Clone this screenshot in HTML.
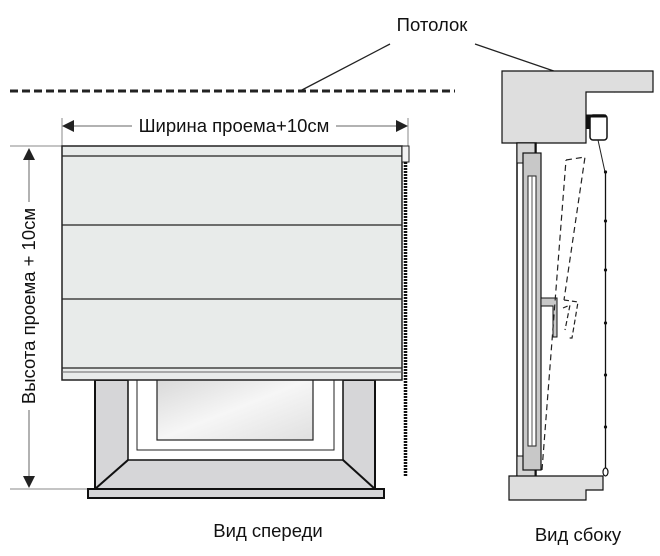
<!DOCTYPE html>
<html><head><meta charset="utf-8"><style>
body{margin:0;background:#fff}
svg{display:block}
text{font-family:"Liberation Sans",sans-serif;fill:#111}
</style></head><body>
<svg width="660" height="556" viewBox="0 0 660 556" xmlns="http://www.w3.org/2000/svg">
<defs><linearGradient id="g" x1="0" y1="0" x2="1" y2="1"><stop offset="0" stop-color="#d8d8d8"/><stop offset="0.5" stop-color="#f6f6f6"/><stop offset="1" stop-color="#e0e0e0"/></linearGradient></defs>
<text x="432" y="31" font-size="18.5" text-anchor="middle">Потолок</text>
<line x1="390" y1="44" x2="300" y2="91" stroke="#222" stroke-width="1.3"/>
<line x1="475" y1="44" x2="615" y2="92" stroke="#222" stroke-width="1.3"/>
<line x1="10" y1="91" x2="455" y2="91" stroke="#222" stroke-width="3" stroke-dasharray="8,4"/>
<line x1="62" y1="118" x2="62" y2="146" stroke="#888" stroke-width="1"/>
<line x1="408" y1="118" x2="408" y2="146" stroke="#888" stroke-width="1"/>
<line x1="70" y1="126" x2="132" y2="126" stroke="#666" stroke-width="1"/>
<line x1="336" y1="126" x2="400" y2="126" stroke="#666" stroke-width="1"/>
<polygon points="62,126 74,120 74,132" fill="#222"/>
<polygon points="408,126 396,120 396,132" fill="#222"/>
<text x="234" y="132" font-size="18.5" text-anchor="middle">Ширина проема+10см</text>
<line x1="10" y1="146" x2="62" y2="146" stroke="#888" stroke-width="1"/>
<line x1="10" y1="489" x2="90" y2="489" stroke="#888" stroke-width="1"/>
<line x1="29" y1="156" x2="29" y2="202" stroke="#666" stroke-width="1"/>
<line x1="29" y1="410" x2="29" y2="480" stroke="#666" stroke-width="1"/>
<polygon points="29,148 23,160 35,160" fill="#222"/>
<polygon points="29,488 23,476 35,476" fill="#222"/>
<text x="0" y="0" font-size="18.5" text-anchor="middle" transform="translate(35,306) rotate(-90)">Высота проема + 10см</text>
<rect x="95" y="380" width="280" height="110" fill="#d6d6d8" stroke="#111" stroke-width="2"/>
<rect x="128" y="378" width="215" height="82" fill="#fff" stroke="#111" stroke-width="1.5"/>
<rect x="137" y="378" width="197" height="72" fill="#fff" stroke="#222" stroke-width="1"/>
<rect x="157" y="378" width="156" height="62" fill="url(#g)" stroke="#222" stroke-width="1.2"/>
<line x1="128" y1="460" x2="95" y2="489" stroke="#111" stroke-width="2"/>
<line x1="343" y1="460" x2="375" y2="489" stroke="#111" stroke-width="2"/>
<rect x="88" y="489" width="296" height="9" fill="#d6d6d8" stroke="#111" stroke-width="2"/>
<rect x="62" y="146" width="340" height="234" fill="#e8ebea" stroke="#222" stroke-width="1.5"/>
<line x1="62" y1="156" x2="402" y2="156" stroke="#222" stroke-width="1.3"/>
<line x1="62" y1="225" x2="402" y2="225" stroke="#222" stroke-width="1.2"/>
<line x1="62" y1="299" x2="402" y2="299" stroke="#222" stroke-width="1.2"/>
<line x1="62" y1="368" x2="402" y2="368" stroke="#222" stroke-width="1.2"/>
<line x1="62" y1="372" x2="402" y2="372" stroke="#666" stroke-width="1"/>
<rect x="402" y="146" width="7" height="16" fill="#f2f2f2" stroke="#222" stroke-width="1"/>
<line x1="405.5" y1="162" x2="405.5" y2="476" stroke="#111" stroke-width="3.5" stroke-dasharray="2,1"/>
<polygon points="502,71 653,71 653,92 586,92 586,143 502,143" fill="#dedede" stroke="#111" stroke-width="1.2"/>
<rect x="517" y="143" width="19" height="333" fill="#fff" stroke="#111" stroke-width="1.5"/>
<rect x="517" y="143" width="18" height="20" fill="#d6d6d6" stroke="#111" stroke-width="1"/>
<rect x="517" y="456" width="18" height="20" fill="#d6d6d6" stroke="#111" stroke-width="1"/>
<rect x="523" y="153" width="18" height="317" fill="#c8c8c8" stroke="#111" stroke-width="1.2"/>
<rect x="528" y="176" width="8" height="270" fill="#fff" stroke="#222" stroke-width="1"/>
<line x1="532" y1="176" x2="532" y2="446" stroke="#555" stroke-width="1"/>
<polygon points="541,298 557,298 557,337 553,337 553,306 541,306" fill="#c8c8c8" stroke="#111" stroke-width="1"/>
<path d="M566,160 L585,157 L564,300 M542,470 L566,160" fill="none" stroke="#222" stroke-width="1.2" stroke-dasharray="6,4"/>
<path d="M564,300 L578,302 L572,338 L569,338 M563,308 L570,305 L565,330" fill="none" stroke="#222" stroke-width="1.2" stroke-dasharray="5,3"/>
<rect x="590" y="115" width="17" height="25" rx="3" fill="#fff" stroke="#111" stroke-width="1.5"/>
<path d="M588,129 L588,116 L606,116" fill="none" stroke="#111" stroke-width="3"/>
<line x1="598" y1="140" x2="605" y2="172" stroke="#222" stroke-width="1"/>
<line x1="605.5" y1="172" x2="605.5" y2="468" stroke="#111" stroke-width="1.3"/>
<g fill="#111"><circle cx="605.5" cy="172" r="1.6"/><circle cx="605.5" cy="221" r="1.6"/><circle cx="605.5" cy="270" r="1.6"/><circle cx="605.5" cy="323" r="1.6"/><circle cx="605.5" cy="375" r="1.6"/><circle cx="605.5" cy="427" r="1.6"/></g>
<ellipse cx="605.5" cy="472" rx="2.5" ry="4" fill="#fff" stroke="#111" stroke-width="1.2"/>
<polygon points="509,476 603,476 603,490 586,490 586,500 509,500" fill="#dedede" stroke="#111" stroke-width="1.2"/>
<text x="268" y="537" font-size="18.5" text-anchor="middle">Вид спереди</text>
<text x="578" y="541" font-size="18.5" text-anchor="middle">Вид сбоку</text>
</svg>
</body></html>
